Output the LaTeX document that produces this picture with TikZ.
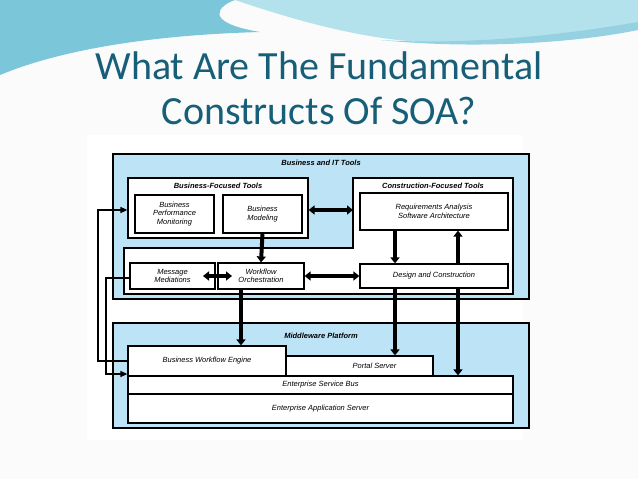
\documentclass[tikz,border=0pt]{standalone}
\usepackage{fontspec}
\setmainfont{Liberation Sans}
\newfontfamily\titlefont{Carlito}
\usetikzlibrary{arrows.meta}
\definecolor{panelblue}{HTML}{BDE3F6}
\definecolor{titleteal}{HTML}{175F78}
\definecolor{waveA}{HTML}{7CC6DA}
\definecolor{waveB}{HTML}{B4E2EC}
\begin{document}
\begin{tikzpicture}[x=1pt,y=-1pt,
  box/.style={draw,line width=1.2pt,fill=white},
  lbl/.style={font=\fontsize{7.5}{8.5}\selectfont\itshape,align=center,inner sep=0pt},
  hdr/.style={font=\fontsize{7.5}{8.5}\selectfont\bfseries\itshape,inner sep=0pt},
  fatarrow/.style={line width=4pt,-{Triangle[length=6pt,width=9pt]}},
  fatboth/.style={line width=4pt,{Triangle[length=6pt,width=9pt]}-{Triangle[length=6pt,width=9pt]}},
  thinarrow/.style={line width=1.2pt,-{Triangle[length=7pt,width=6pt]}}]
\useasboundingbox (0,0) rectangle (638,479);
\fill[white!97!gray] (0,0) rectangle (638,479);
% waves
\fill[waveA] (0,0) -- (0,75) .. controls (60,50) and (150,35) .. (260,32) .. controls (200,22) and (220,5) .. (235,0) -- cycle;
\fill[waveB] (235,0) .. controls (300,22) and (360,38) .. (420,42) .. controls (500,47) and (580,37) .. (638,27) -- (638,0) -- cycle;
\fill[waveA!80!white] (380,40) .. controls (480,46) and (580,32) .. (638,22) -- (638,30) .. controls (580,42) and (480,50) .. (380,40);
% title
\node[font=\titlefont\fontsize{40}{45}\selectfont,text=titleteal,align=center] (title) at (319,88) {What Are The Fundamental\\Constructs Of SOA?};
% panel
\fill[white] (87,135) rectangle (523,440);
% top outer
\node[box,fill=panelblue,minimum width=416pt,minimum height=145pt,inner sep=0pt] (bit) at (321,226.5) {};
\node[hdr] (bitl) at (321,163) {Business and IT Tools};
\node[box,minimum width=180pt,minimum height=60pt] (bft) at (218,208) {};
\node[hdr] (bftl) at (218,186) {Business-Focused Tools};
\draw[box] (124,248) -- (353,248) -- (353,178) -- (513,178) -- (513,294) -- (124,294) -- cycle;
\node[hdr] (cftl) at (433,186) {Construction-Focused Tools};
\node[box,lbl,minimum width=79pt,minimum height=38pt] (bpm) at (174.5,214) {Business\\Performance\\Monitoring};
\node[box,lbl,minimum width=79pt,minimum height=38pt] (bm) at (262.5,214) {Business\\Modeling};
\node[box,lbl,minimum width=148pt,minimum height=37pt] (req) at (434,211.5) {Requirements Analysis\\Software Architecture};
\node[box,lbl,minimum width=85pt,minimum height=26pt] (mm) at (172.5,276) {Message\\Mediations};
\node[box,lbl,minimum width=86pt,minimum height=26pt] (wo) at (261,276) {Workflow\\Orchestration};
\node[box,lbl,minimum width=148pt,minimum height=24pt] (dc) at (434,276) {Design and Construction};
% middleware
\node[box,fill=panelblue,minimum width=416pt,minimum height=105pt,inner sep=0pt] (mw) at (321,375.5) {};
\node[hdr] (mwl) at (321,336) {Middleware Platform};
\node[box,lbl,minimum width=158pt,minimum height=30pt] (bwe) at (207,361) {Business Workflow Engine};
\node[box,lbl,minimum width=147pt,minimum height=20pt] (ps) at (359.5,366) {\hspace{30pt}Portal Server};
\node[box,lbl,minimum width=385pt,minimum height=18pt] (esb) at (320.5,385) {Enterprise Service Bus};
\node[box,lbl,minimum width=385pt,minimum height=29pt] (eas) at (320.5,408.5) {Enterprise Application Server};
% arrows
\draw[fatboth] (bft.east |- 0,210) -- (353,210);
\draw[fatarrow] (bm.south) -- (wo.north);
\draw[fatboth] (203,276) -- (232,276);
\draw[fatboth] (wo.east) -- (dc.west);
\draw[fatarrow] (req.south -| 395,0) -- (dc.north -| 395,0);
\draw[fatarrow] (dc.north -| 458,0) -- (req.south -| 458,0);
\draw[fatarrow] (wo.south -| 241,0) -- (bwe.north -| 241,0);
\draw[fatarrow] (dc.south -| 395,0) -- (ps.north -| 395,0);
\draw[fatarrow] (dc.south -| 458,0) -- (esb.north -| 458,0);
% thin lines
\coordinate (c1) at (98,210);
\coordinate (c2) at (98,361);
\coordinate (c3) at (106,278);
\coordinate (c4) at (106,374);
\draw[thinarrow] (bwe.west |- c2) -- (c2) -- (c1) -- (bft.west |- c1);
\draw[thinarrow] (mm.west |- c3) -- (c3) -- (c4) -- (bwe.west |- c4);
\end{tikzpicture}
\end{document}
